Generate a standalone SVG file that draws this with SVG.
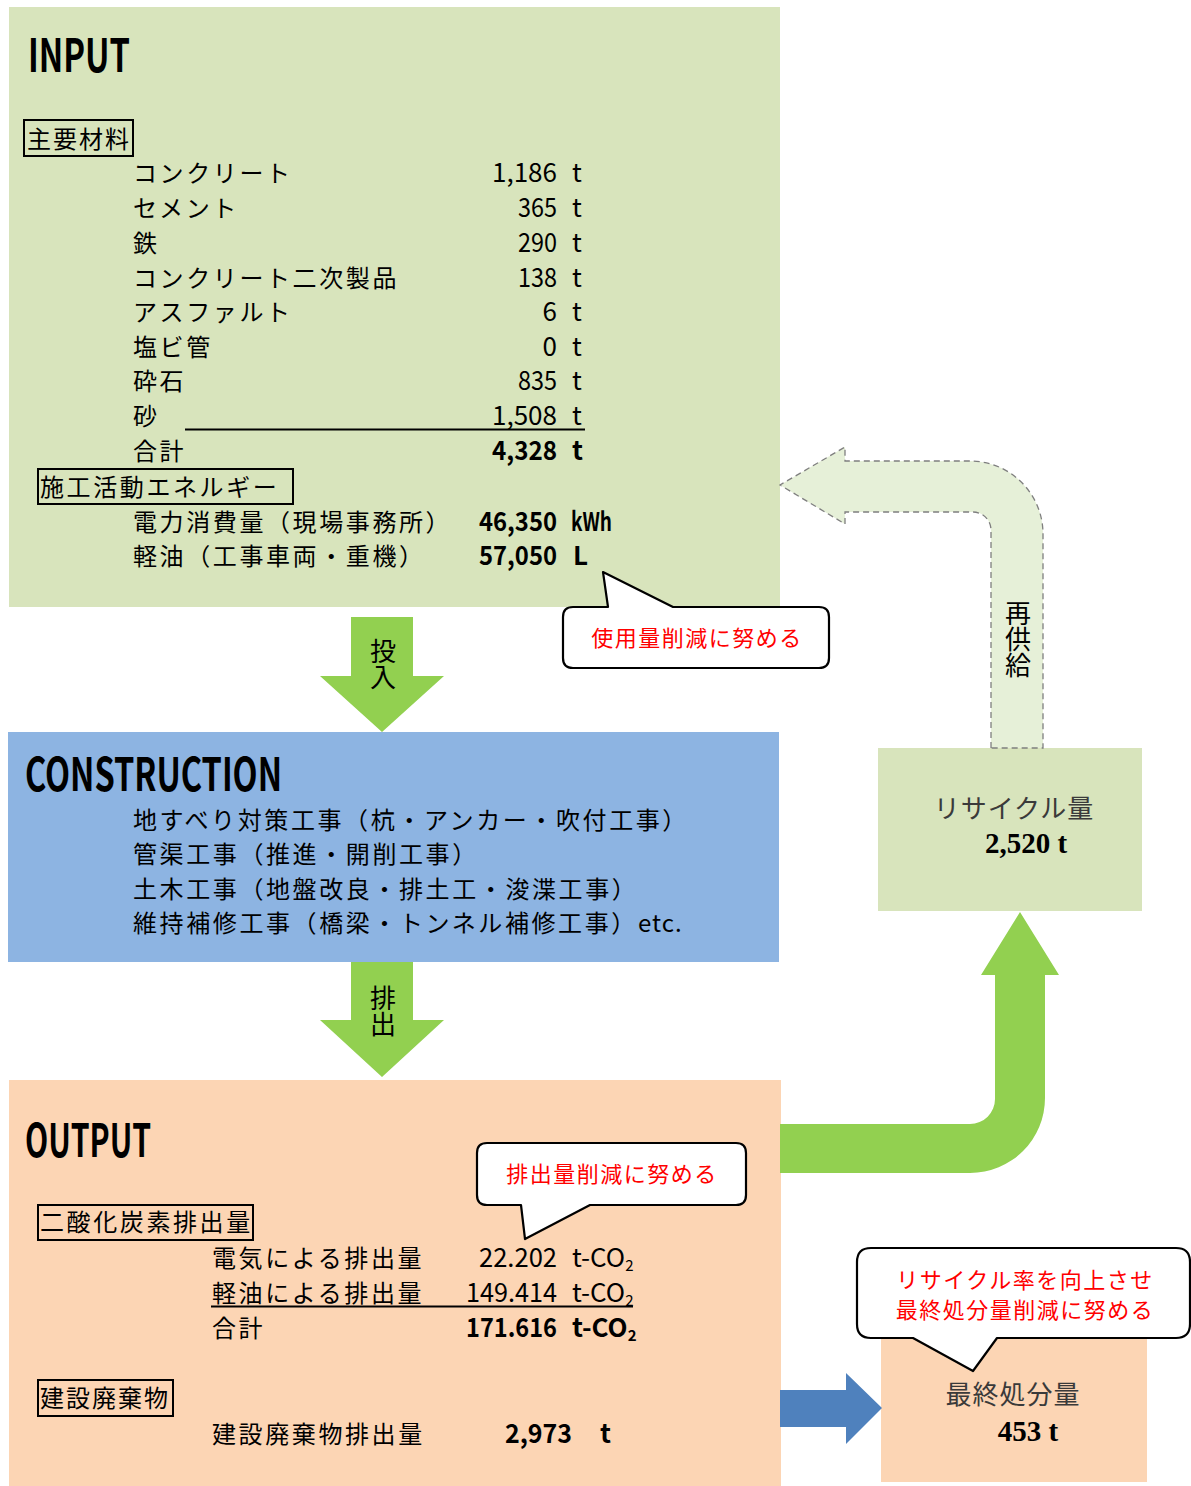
<svg xmlns="http://www.w3.org/2000/svg" width="1191" height="1486" viewBox="0 0 1191 1486">
<style>
.t{font-family:"Noto Sans CJK JP","Noto Sans",sans-serif;font-size:24px;fill:#000;letter-spacing:2.6px}
.n{font-family:"Noto Sans CJK JP","Noto Sans",sans-serif;font-size:26px;fill:#000}
.b{font-weight:bold}
.h{font-family:"Noto Sans CJK JP","Noto Sans",sans-serif;font-size:46px;font-weight:bold;fill:#000}
.red{font-family:"Noto Sans CJK JP",sans-serif;font-size:22px;fill:#FF0000;letter-spacing:1.5px}
.v{font-family:"Noto Sans CJK JP",sans-serif;font-size:26px;fill:#000;writing-mode:vertical-rl;text-orientation:upright}
.sj{font-family:"Liberation Serif","Noto Sans CJK JP",serif;font-size:26px;fill:#3a3a3a;letter-spacing:1px}
.sn{font-family:"Liberation Serif","Noto Sans CJK JP",serif;font-size:29px;font-weight:bold;fill:#000}
.hb{fill:none;stroke:#000;stroke-width:2}
.call{fill:#fff;stroke:#000;stroke-width:2.2;stroke-linejoin:round}
</style>

<g id="input">
<rect x="9" y="7" width="771" height="600" fill="#D8E4BC"/>
<text class="h" x="28" y="72" textLength="102" lengthAdjust="spacingAndGlyphs">INPUT</text>
<rect class="hb" x="24" y="120" width="109" height="36"/>
<text class="t" x="27" y="148" style="letter-spacing:2px">主要材料</text>
<text class="t" x="133" y="182">コンクリート</text>
<text class="t" x="133" y="217">セメント</text>
<text class="t" x="133" y="252">鉄</text>
<text class="t" x="133" y="287">コンクリート二次製品</text>
<text class="t" x="133" y="321">アスファルト</text>
<text class="t" x="133" y="356">塩ビ管</text>
<text class="t" x="133" y="390">砕石</text>
<text class="t" x="133" y="425">砂</text>
<text class="t" x="133" y="460">合計</text>
<text class="n" x="557" y="182" text-anchor="end" textLength="65" lengthAdjust="spacingAndGlyphs">1,186</text>
<text class="n" x="557" y="217" text-anchor="end" textLength="39" lengthAdjust="spacingAndGlyphs">365</text>
<text class="n" x="557" y="252" text-anchor="end" textLength="39" lengthAdjust="spacingAndGlyphs">290</text>
<text class="n" x="557" y="287" text-anchor="end" textLength="39" lengthAdjust="spacingAndGlyphs">138</text>
<text class="n" x="557" y="321" text-anchor="end">6</text>
<text class="n" x="557" y="356" text-anchor="end">0</text>
<text class="n" x="557" y="390" text-anchor="end" textLength="39" lengthAdjust="spacingAndGlyphs">835</text>
<text class="n" x="557" y="425" text-anchor="end" textLength="65" lengthAdjust="spacingAndGlyphs">1,508</text>
<text class="n b" x="557" y="460" text-anchor="end" textLength="65" lengthAdjust="spacingAndGlyphs">4,328</text>
<text class="n" x="572" y="182">t</text>
<text class="n" x="572" y="217">t</text>
<text class="n" x="572" y="252">t</text>
<text class="n" x="572" y="287">t</text>
<text class="n" x="572" y="321">t</text>
<text class="n" x="572" y="356">t</text>
<text class="n" x="572" y="390">t</text>
<text class="n" x="572" y="425">t</text>
<text class="n b" x="572" y="460">t</text>
<line x1="185" y1="429.5" x2="585" y2="429.5" stroke="#000" stroke-width="2"/>
<rect class="hb" x="38" y="469" width="255" height="35"/>
<text class="t" x="40" y="496">施工活動エネルギー</text>
<text class="t" x="133" y="531">電力消費量（現場事務所）</text>
<text class="t" x="133" y="565">軽油（工事車両・重機）</text>
<text class="n b" x="557" y="531" text-anchor="end" textLength="78" lengthAdjust="spacingAndGlyphs">46,350</text>
<text class="n b" x="571" y="531" textLength="41" lengthAdjust="spacingAndGlyphs">kWh</text>
<text class="n b" x="557" y="565" text-anchor="end" textLength="78" lengthAdjust="spacingAndGlyphs">57,050</text>
<text class="n b" x="573" y="565">L</text>
</g>

<g id="construction">
<rect x="8" y="732" width="771" height="230" fill="#8DB4E2"/>
<text class="h" x="25" y="791" textLength="257" lengthAdjust="spacingAndGlyphs">CONSTRUCTION</text>
<text class="t" x="133" y="829">地すべり対策工事（杭・アンカー・吹付工事）</text>
<text class="t" x="133" y="863">管渠工事（推進・開削工事）</text>
<text class="t" x="133" y="898">土木工事（地盤改良・排土工・浚渫工事）</text>
<text class="t" x="133" y="932">維持補修工事（橋梁・トンネル補修工事）<tspan style="letter-spacing:1px">etc.</tspan></text>
</g>

<g id="output">
<rect x="9" y="1080" width="772" height="406" fill="#FCD5B4"/>
<text class="h" x="25" y="1157" textLength="126" lengthAdjust="spacingAndGlyphs">OUTPUT</text>
<rect class="hb" x="38" y="1205" width="215" height="35"/>
<text class="t" x="40" y="1231">二酸化炭素排出量</text>
<text class="t" x="212" y="1267">電気による排出量</text>
<text class="t" x="212" y="1302">軽油による排出量</text>
<text class="t" x="212" y="1337">合計</text>
<text class="n" x="557" y="1267" text-anchor="end" textLength="78" lengthAdjust="spacingAndGlyphs">22.202</text>
<text class="n" x="557" y="1302" text-anchor="end" textLength="91" lengthAdjust="spacingAndGlyphs">149.414</text>
<text class="n b" x="557" y="1337" text-anchor="end" textLength="91" lengthAdjust="spacingAndGlyphs">171.616</text>
<text class="n" x="572" y="1267">t-CO<tspan font-size="15" dy="4">2</tspan></text>
<text class="n" x="572" y="1302">t-CO<tspan font-size="15" dy="4">2</tspan></text>
<text class="n b" x="572" y="1337">t-CO<tspan font-size="15" dy="4">2</tspan></text>
<line x1="211" y1="1306.5" x2="633" y2="1306.5" stroke="#000" stroke-width="2"/>
<rect class="hb" x="38" y="1380" width="135" height="36"/>
<text class="t" x="40" y="1407" style="letter-spacing:2px">建設廃棄物</text>
<text class="t" x="212" y="1443">建設廃棄物排出量</text>
<text class="n b" x="572" y="1443" text-anchor="end" textLength="67" lengthAdjust="spacingAndGlyphs">2,973</text>
<text class="n b" x="600" y="1443">t</text>
</g>

<g id="recycle">
<rect x="878" y="748" width="264" height="163" fill="#D8E4BC"/>
<text class="sj" x="1014" y="818" text-anchor="middle">リサイクル量</text>
<text class="sn" x="1026" y="853" text-anchor="middle">2,520 t</text>
</g>

<g id="final-disposal">
<rect x="881" y="1320" width="266" height="162" fill="#FCD5B4"/>
<text class="sj" x="1013" y="1404" text-anchor="middle">最終処分量</text>
<text class="sn" x="1028" y="1441" text-anchor="middle">453 t</text>
</g>

<g id="connectors">
<path d="M351,617 L413,617 L413,676 L444,676 L382,732 L320,676 L351,676 Z" fill="#92D050"/>
<path d="M351,962 L413,962 L413,1020 L444,1020 L382,1077 L320,1020 L351,1020 Z" fill="#92D050"/>
<path d="M780,1124 L970,1124 A25,25 0 0 0 995,1099 L995,975 L981,975 L1020,912 L1059,975 L1045,975 L1045,1098 A75,75 0 0 1 970,1173 L780,1173 Z" fill="#92D050"/>
<path d="M991,748 L991,530 A18,18 0 0 0 973,512 L845,512 L845,524 L780,485 L845,447 L845,461 L970,461 A73,73 0 0 1 1043,534 L1043,748 Z" fill="#E6F0D8" stroke="#7F7F7F" stroke-width="1.3" stroke-dasharray="6,4"/>
<path d="M780,1390 L846,1390 L846,1373 L882,1408 L846,1444 L846,1427 L780,1427 Z" fill="#4F81BD"/>
<text class="v" x="383" y="638">投入</text>
<text class="v" x="383" y="985">排出</text>
<text class="v" x="1018" y="600">再供給</text>
</g>

<g id="callout-usage">
<path class="call" d="M573,607 L608,607 L603,572 L673,607 L819,607 Q829,607 829,617 L829,658 Q829,668 819,668 L573,668 Q563,668 563,658 L563,617 Q563,607 573,607 Z"/>
<text class="red" x="697" y="646" text-anchor="middle">使用量削減に努める</text>
</g>

<g id="callout-emission">
<path class="call" d="M487,1143 L736,1143 Q746,1143 746,1153 L746,1195 Q746,1205 736,1205 L590,1205 L525,1239 L521,1205 L487,1205 Q477,1205 477,1195 L477,1153 Q477,1143 487,1143 Z"/>
<text class="red" x="612" y="1182" text-anchor="middle">排出量削減に努める</text>
</g>

<g id="callout-recycle">
<path class="call" d="M871,1248 L1176,1248 Q1190,1248 1190,1262 L1190,1324 Q1190,1338 1176,1338 L997,1338 L973,1371 L913,1338 L871,1338 Q857,1338 857,1324 L857,1262 Q857,1248 871,1248 Z"/>
<text class="red" x="1025" y="1288" text-anchor="middle">リサイクル率を向上させ</text>
<text class="red" x="1025" y="1318" text-anchor="middle">最終処分量削減に努める</text>
</g>
</svg>
